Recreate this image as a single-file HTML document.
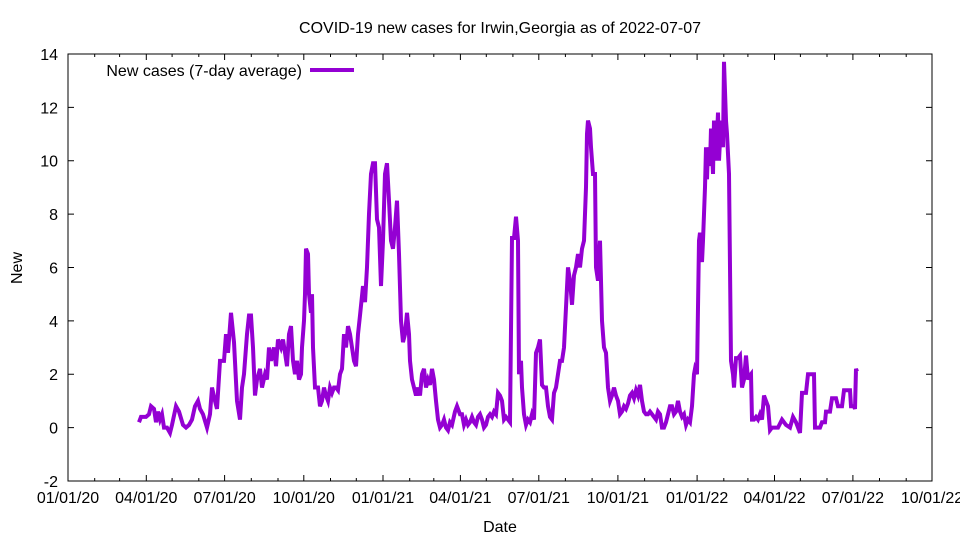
<!DOCTYPE html>
<html><head><meta charset="utf-8"><style>body{margin:0;background:#fff}svg{display:block}text{font-family:"Liberation Sans",sans-serif;font-size:16px;fill:#000}</style></head><body>
<svg width="960" height="540" viewBox="0 0 960 540">
<text x="500" y="33" text-anchor="middle" font-size="16">COVID-19 new cases for Irwin,Georgia as of 2022-07-07</text>
<g stroke="#000" stroke-width="1" fill="none">
<rect x="68" y="54" width="864" height="427"/>
<path d="M68,481h6M932,481h-6M68,427.6h6M932,427.6h-6M68,374.2h6M932,374.2h-6M68,320.9h6M932,320.9h-6M68,267.5h6M932,267.5h-6M68,214.1h6M932,214.1h-6M68,160.7h6M932,160.7h-6M68,107.4h6M932,107.4h-6"/>
<path d="M146.3,481v-6M146.3,54v6M224.6,481v-6M224.6,54v6M303.8,481v-6M303.8,54v6M383,481v-6M383,54v6M460.4,481v-6M460.4,54v6M538.8,481v-6M538.8,54v6M617.9,481v-6M617.9,54v6M697.1,481v-6M697.1,54v6M774.5,481v-6M774.5,54v6M852.9,481v-6M852.9,54v6"/>
<path d="M94.7,481v-3M94.7,54v3M119.6,481v-3M119.6,54v3M172.1,481v-3M172.1,54v3M198.8,481v-3M198.8,54v3M251.3,481v-3M251.3,54v3M278,481v-3M278,54v3M330.5,481v-3M330.5,54v3M356.3,481v-3M356.3,54v3M409.7,481v-3M409.7,54v3M433.8,481v-3M433.8,54v3M486.3,481v-3M486.3,54v3M512.9,481v-3M512.9,54v3M565.4,481v-3M565.4,54v3M592.1,481v-3M592.1,54v3M644.6,481v-3M644.6,54v3M670.4,481v-3M670.4,54v3M723.8,481v-3M723.8,54v3M747.9,481v-3M747.9,54v3M800.4,481v-3M800.4,54v3M827,481v-3M827,54v3M879.5,481v-3M879.5,54v3M906.2,481v-3M906.2,54v3"/>
</g>
<g text-anchor="end">
<text x="58" y="487">-2</text><text x="58" y="433.6">0</text><text x="58" y="380.2">2</text><text x="58" y="326.9">4</text><text x="58" y="273.5">6</text><text x="58" y="220.1">8</text><text x="58" y="166.7">10</text><text x="58" y="113.4">12</text><text x="58" y="60">14</text>
</g>
<g text-anchor="middle">
<text x="68" y="503">01/01/20</text><text x="146.3" y="503">04/01/20</text><text x="224.6" y="503">07/01/20</text><text x="303.8" y="503">10/01/20</text><text x="383" y="503">01/01/21</text><text x="460.4" y="503">04/01/21</text><text x="538.8" y="503">07/01/21</text><text x="617.9" y="503">10/01/21</text><text x="697.1" y="503">01/01/22</text><text x="774.5" y="503">04/01/22</text><text x="852.9" y="503">07/01/22</text><text x="932" y="503">10/01/22</text>
<text x="500" y="532">Date</text>
<text transform="translate(22,268) rotate(-90)">New</text>
</g>
<text x="302" y="76" text-anchor="end">New cases (7-day average)</text>
<line x1="310" y1="70" x2="354" y2="70" stroke="#9400d3" stroke-width="4"/>
<g transform="translate(0,427.6) scale(1,-26.7)">
<polyline fill="none" stroke="#9400d3" stroke-width="4" vector-effect="non-scaling-stroke" stroke-linejoin="miter" points="139,0.2 141,0.4 146,0.4 149,0.5 151,0.8 154,0.7 156,0.2 158,0.6 160,0.3 162,0.5 164,0.0 167,0.0 170,-0.2 172,0.1 176,0.8 179,0.6 183,0.1 186,0.0 189,0.1 192,0.3 195,0.8 198,1.0 200,0.7 203,0.5 207,0.0 210,0.5 212,1.5 215,1.0 217,0.7 220,2.5 224,2.5 226,3.5 228,2.8 231,4.3 234,3.2 237,1.0 240,0.3 242,1.5 244,2.0 247,3.5 249,4.2 251,4.2 253,3.0 255,1.2 257,1.8 260,2.2 262,1.5 265,2.0 267,1.8 269,3.0 271,2.5 274,3.0 276,2.3 278,3.3 281,3.0 283,3.3 285,2.8 287,2.3 289,3.5 291,3.8 293,2.5 295,2.0 297,2.5 299,1.8 301,2.0 302,3.0 304,4.0 305,5.0 306,6.7 308,6.5 309,5.0 311,4.3 312,5.0 313,3.0 315,1.5 318,1.5 320,0.8 322,1.0 324,1.5 326,1.2 328,1.0 330,1.5 332,1.3 334,1.5 336,1.5 338,1.4 340,2.0 342,2.2 344,3.5 346,3.0 348,3.8 350,3.5 352,3.0 354,2.5 356,2.3 358,3.5 360,4.2 363,5.3 365,4.7 367,6.0 369,8.0 371,9.5 373,9.9 375,9.9 377,7.8 379,7.5 381,5.3 383,7.0 385,9.5 387,9.9 389,8.5 391,7.0 393,6.7 395,7.5 397,8.5 399,6.5 401,4.0 403,3.2 405,3.5 407,4.3 409,3.5 410,2.5 412,1.8 414,1.5 416,1.2 418,1.5 420,1.2 422,2.0 424,2.2 426,1.5 428,1.8 430,1.6 432,2.2 434,1.8 436,1.0 438,0.3 440,0.0 442,0.1 444,0.3 446,0.0 448,-0.1 450,0.2 452,0.1 455,0.6 457,0.8 460,0.5 462,0.5 464,0.1 466,0.3 468,0.1 470,0.2 472,0.4 474,0.2 476,0.1 478,0.4 480,0.5 482,0.3 484,0.0 486,0.1 488,0.4 490,0.5 492,0.4 494,0.6 496,0.5 498,1.3 500,1.2 502,1.0 504,0.3 506,0.4 508,0.3 510,0.2 512,7.1 514,7.1 516,7.9 518,7.0 519,2.0 521,2.5 522,1.5 524,0.5 526,0.1 528,0.3 530,0.2 532,0.5 534,0.3 536,2.8 538,3.0 540,3.3 542,1.6 544,1.5 546,1.5 548,0.8 550,0.4 552,0.3 554,1.3 556,1.5 558,2.0 560,2.5 562,2.5 564,3.0 566,4.5 568,6.0 570,5.5 572,4.6 574,5.7 576,6.0 578,6.5 580,6.0 582,6.7 584,7.0 586,9.0 587,11.0 588,11.5 590,11.2 591,10.5 593,9.5 595,9.5 596,6.0 598,5.5 600,7.0 602,4.0 604,3.0 606,2.8 608,1.5 610,1.0 612,1.2 614,1.5 616,1.2 618,1.0 620,0.5 622,0.6 624,0.8 626,0.7 628,0.9 630,1.2 632,1.3 634,1.1 636,1.4 638,1.2 640,1.6 642,1.0 644,0.6 646,0.5 648,0.5 650,0.6 652,0.5 654,0.4 656,0.3 658,0.6 660,0.5 662,0.0 664,0.0 666,0.2 668,0.5 670,0.8 672,0.8 674,0.5 676,0.6 678,1.0 680,0.6 682,0.4 684,0.5 686,0.1 688,0.3 690,0.2 692,0.8 694,2.0 695,2.2 697,2.0 699,7.0 700,7.3 702,6.2 703,7.0 705,9.0 706,10.5 707,9.3 708,10.5 710,9.8 711,11.2 713,9.5 714,11.5 716,10.0 718,11.8 719,10.0 721,11.5 723,10.5 724,13.7 726,11.5 727,11.0 729,9.5 731,2.5 733,2.0 734,1.5 736,2.6 738,2.6 740,2.7 742,1.5 744,1.8 746,2.7 748,1.8 749,1.9 751,2.0 752,0.3 754,0.3 756,0.4 758,0.3 760,0.5 762,0.3 764,1.2 766,1.0 768,0.8 770,-0.1 772,0.0 774,0.0 776,0.0 778,0.0 782,0.3 786,0.1 790,0.0 793,0.4 796,0.2 798,0.0 800,-0.2 802,1.3 806,1.3 808,2.0 814,2.0 815,0.0 820,0.0 822,0.2 825,0.2 826,0.6 830,0.6 832,1.1 836,1.1 838,0.8 842,0.8 844,1.4 850,1.4 851,0.8 854,0.8 855,0.7 856,2.2 857,2.1"/>
</g>
</svg>
</body></html>
